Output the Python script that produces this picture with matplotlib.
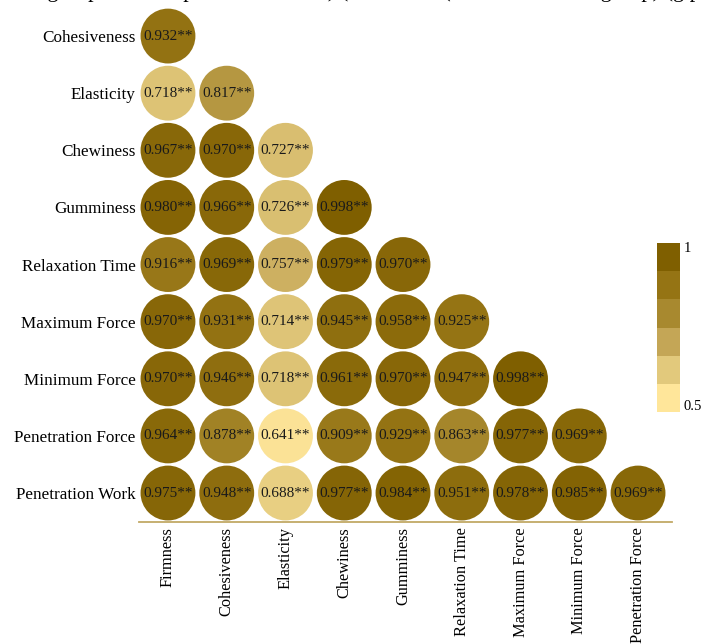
import numpy as np
import matplotlib
matplotlib.use("Agg")
import matplotlib.pyplot as plt
from matplotlib.colors import LinearSegmentedColormap, ListedColormap, BoundaryNorm
from matplotlib.colorbar import ColorbarBase

plt.rcParams['font.family'] = ['Liberation Serif', 'DejaVu Serif']

# Texture attributes
row_labels = ["Cohesiveness", "Elasticity", "Chewiness", "Gumminess", "Relaxation Time",
              "Maximum Force", "Minimum Force", "Penetration Force", "Penetration Work"]
col_labels = ["Firmness", "Cohesiveness", "Elasticity", "Chewiness", "Gumminess",
              "Relaxation Time", "Maximum Force", "Minimum Force", "Penetration Force"]

# Lower-triangle Pearson correlations (row i has i+1 values)
r_cohesiveness = [0.932]
r_elasticity = [0.718, 0.817]
r_chewiness = [0.967, 0.970, 0.727]
r_gumminess = [0.980, 0.966, 0.726, 0.998]
r_relaxation = [0.916, 0.969, 0.757, 0.979, 0.970]
r_max_force = [0.970, 0.931, 0.714, 0.945, 0.958, 0.925]
r_min_force = [0.970, 0.946, 0.718, 0.961, 0.970, 0.947, 0.998]
r_pen_force = [0.964, 0.878, 0.641, 0.909, 0.929, 0.863, 0.977, 0.969]
r_pen_work = [0.975, 0.948, 0.688, 0.977, 0.984, 0.951, 0.978, 0.985, 0.969]

rows = [r_cohesiveness, r_elasticity, r_chewiness, r_gumminess, r_relaxation,
        r_max_force, r_min_force, r_pen_force, r_pen_work]

cbar_labels = ["0.5", "1"]

palette = ["#FFE69A", "#E2C97C", "#C4A656", "#A8892F", "#957414", "#7F5F00"]
cmap = LinearSegmentedColormap.from_list("gold", palette)
vmin, vmax = 0.63, 1.0

W, H = 701, 644
fig = plt.figure(figsize=(W / 100, H / 100), dpi=100)
ax = fig.add_axes([138.6 / W, 1 - 521.6 / H, 528.8 / W, 514.1 / H])

xs, ys, vs = [], [], []
for i, vals in enumerate(rows):
    for j, v in enumerate(vals):
        xs.append(j)
        ys.append(i)
        vs.append(v)
xs = np.array(xs); ys = np.array(ys); vs = np.array(vs)

colors = cmap(np.clip((vs - vmin) / (vmax - vmin), 0, 1))
ax.scatter(xs, ys, s=1560, c=colors, edgecolors='none', zorder=2)
for x, y, v in zip(xs, ys, vs):
    ax.text(x, y, f"{v:.3f}**", ha='center', va='center', fontsize=11,
            color='#1a1a1a', zorder=3)

ax.set_xlim(-0.5, 8.5)
ax.set_ylim(8.5, -0.5)
ax.set_xticks(range(len(col_labels)))
ax.set_xticklabels(col_labels, rotation=90, fontsize=11.8, va='top')
ax.set_yticks(range(len(row_labels)))
ax.set_yticklabels(row_labels, fontsize=12.3)
ax.tick_params(length=0)
ax.tick_params(axis='y', pad=2)
ax.tick_params(axis='x', pad=4)
for side in ['top', 'right', 'left']:
    ax.spines[side].set_visible(False)
ax.spines['bottom'].set_color('#C2A966')
ax.spines['bottom'].set_linewidth(1.3)
ax.spines['bottom'].set_bounds(-0.5, 8.58)

# Discrete colour key
cax = fig.add_axes([657 / W, 1 - 412 / H, 23 / W, 169 / H])
bounds = np.linspace(0.5, 1.0, len(palette) + 1)
cb = ColorbarBase(cax, cmap=ListedColormap(palette), norm=BoundaryNorm(bounds, len(palette)),
                  orientation='vertical')
cb.outline.set_visible(False)
cb.set_ticks([])
cax.minorticks_off()
cax.tick_params(which='both', length=0, labelright=False)
cax.text(1.15, 0.965, cbar_labels[1], transform=cax.transAxes, ha='left', va='center', fontsize=10.5)
cax.text(1.15, 0.035, cbar_labels[0], transform=cax.transAxes, ha='left', va='center', fontsize=10.5)

# Caption line running off the top of the page
fig.text(0.5, 1 + 3 / H, "each group was compared with itself) (a: Control (Total Meat Loaf group) (g p",
         ha='center', va='baseline', fontsize=16)

fig.savefig("out.png", dpi=100)
